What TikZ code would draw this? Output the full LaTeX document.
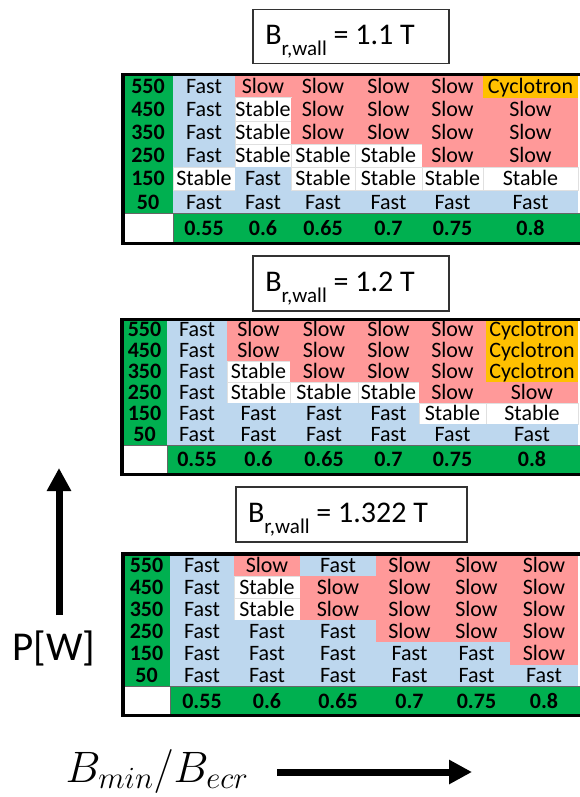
\RequirePackage{fix-cm}
\documentclass[tikz,border=0pt]{standalone}
\usepackage{fontspec}
\setmainfont{Carlito}
\usetikzlibrary{arrows.meta}

\definecolor{fastblue}{HTML}{BDD7EE}
\definecolor{slowred}{HTML}{FF9999}
\definecolor{cycorange}{HTML}{FFC000}
\definecolor{labgreen}{HTML}{00B050}

% One regime table: #1 name, #2 left, #3 top, #4 row height,
% #5 height of the bottom row, #6 column edges, #7 rows of regimes.
\newcommand{\regimes}[7]{%
  \pgfmathsetmacro{\xa}{{#6}[0]}
  \pgfmathsetmacro{\yb}{#3+6*#4}
  \pgfmathsetmacro{\yc}{\yb+#5}
  \fill[labgreen] (#2,#3) rectangle (\xa,\yb);
  \fill[labgreen] (\xa,\yb) rectangle (582,\yc);
  \foreach \kinds [count=\rw] in {#7} {
    \foreach \kind [count=\cl] in \kinds {
      \pgfmathsetmacro{\xl}{{#6}[\cl-1]}
      \pgfmathsetmacro{\xr}{{#6}[\cl]}
      \pgfmathsetmacro{\yt}{#3+(\rw-1)*#4}
      \path[\kind] (\xl,\yt) rectangle (\xr,\yt+#4);
      \node[celltext] (#1-\rw-\cl) at ({(\xl+\xr)/2},\yt+#4/2) {\kind};
    }
  }
  \foreach \pw [count=\rw] in {550,450,350,250,150,50}
    \node[labtext] (#1-p\rw) at ({(#2+\xa)/2},#3+\rw*#4-#4/2) {\pw};
  \foreach \val [count=\cl] in {0.55,0.6,0.65,0.7,0.75,0.8} {
    \pgfmathsetmacro{\xl}{{#6}[\cl-1]}
    \pgfmathsetmacro{\xr}{{#6}[\cl]}
    \node[labtext] (#1-b\cl) at ({(\xl+\xr)/2},{(\yb+\yc)/2}) {\val};
  }
  \draw[black!60,line width=.8pt] (#2,\yb) -- (582,\yb) (\xa,\yb) -- (\xa,\yc);
  \draw[frame] (#2,#3) rectangle (583,\yc);
}

\begin{document}
\begin{tikzpicture}[x=1pt,y=-1pt,line join=miter,
    Fast/.style={fill=fastblue},
    Slow/.style={fill=slowred},
    Stable/.style={fill=white,draw=black!12,line width=.6pt},
    Cyclotron/.style={fill=cycorange},
    celltext/.style={font=\fontsize{22}{24}\selectfont,inner sep=0pt,
      text height=14pt,text depth=0pt},
    labtext/.style={celltext,font=\fontsize{22}{24}\selectfont\bfseries},
    frame/.style={draw=black,line width=3.5pt},
    titlebox/.style={draw=black!80,line width=1.3pt,fill=white},
    titletext/.style={font=\fontsize{30}{32}\selectfont,inner sep=0pt,anchor=base},
    axis/.style={line width=7pt,-{Triangle[width=23pt,length=23pt]}}]
  \useasboundingbox (0,0) rectangle (579,797);

  % Titles of the three wall fields.
  \node[titlebox,minimum width=196pt,minimum height=54pt] (box1) at (351,36.5) {};
  \node[titletext] (title1) at (340,45)
    {B\raisebox{-11pt}{\fontsize{21}{21}\selectfont r,wall} = 1.1 T};
  \node[titlebox,minimum width=196pt,minimum height=55pt] (box2) at (351,283.5) {};
  \node[titletext] (title2) at (340,291)
    {B\raisebox{-11pt}{\fontsize{21}{21}\selectfont r,wall} = 1.2 T};
  \node[titlebox,minimum width=231pt,minimum height=55pt] (box3) at (351.5,514.5) {};
  \node[titletext] (title3) at (338,522)
    {B\raisebox{-11pt}{\fontsize{21}{21}\selectfont r,wall} = 1.322 T};

  % B_r,wall = 1.1 T
  \regimes{tA}{123}{74.5}{23.2}{30}{173,235,291,355,422,483,578}{
    {Fast,Slow,Slow,Slow,Slow,Cyclotron},
    {Fast,Stable,Slow,Slow,Slow,Slow},
    {Fast,Stable,Slow,Slow,Slow,Slow},
    {Fast,Stable,Stable,Stable,Slow,Slow},
    {Stable,Fast,Stable,Stable,Stable,Stable},
    {Fast,Fast,Fast,Fast,Fast,Fast}}

  % B_r,wall = 1.2 T
  \regimes{tB}{122}{319.5}{20.9}{29.5}{167,227,290,358,419,486,578}{
    {Fast,Slow,Slow,Slow,Slow,Cyclotron},
    {Fast,Slow,Slow,Slow,Slow,Cyclotron},
    {Fast,Stable,Slow,Slow,Slow,Cyclotron},
    {Fast,Stable,Stable,Stable,Slow,Slow},
    {Fast,Fast,Fast,Fast,Stable,Stable},
    {Fast,Fast,Fast,Fast,Fast,Fast}}

  % B_r,wall = 1.322 T
  \regimes{tC}{123}{554}{22.1}{29}{170,234,300,376,443,510,578}{
    {Fast,Slow,Fast,Slow,Slow,Slow},
    {Fast,Stable,Slow,Slow,Slow,Slow},
    {Fast,Stable,Slow,Slow,Slow,Slow},
    {Fast,Fast,Fast,Slow,Slow,Slow},
    {Fast,Fast,Fast,Fast,Fast,Slow},
    {Fast,Fast,Fast,Fast,Fast,Fast}}

  % Axis arrows and their labels.
  \coordinate (pfoot) at (59,615);
  \coordinate (ptip) at (59,468);
  \draw[axis] (pfoot) -- (ptip);
  \node[font=\fontsize{41}{44}\selectfont,inner sep=0pt,anchor=base] (plabel)
    at (54,660) {P[W]};
  \node[font=\fontsize{44}{48}\selectfont,inner sep=0pt,anchor=base] (blabel)
    at (157,782) {$B_{min}/B_{ecr}$};
  \coordinate (bfoot) at (277,772);
  \coordinate (btip) at (472,772);
  \draw[axis] (bfoot) -- (btip);
\end{tikzpicture}
\end{document}
